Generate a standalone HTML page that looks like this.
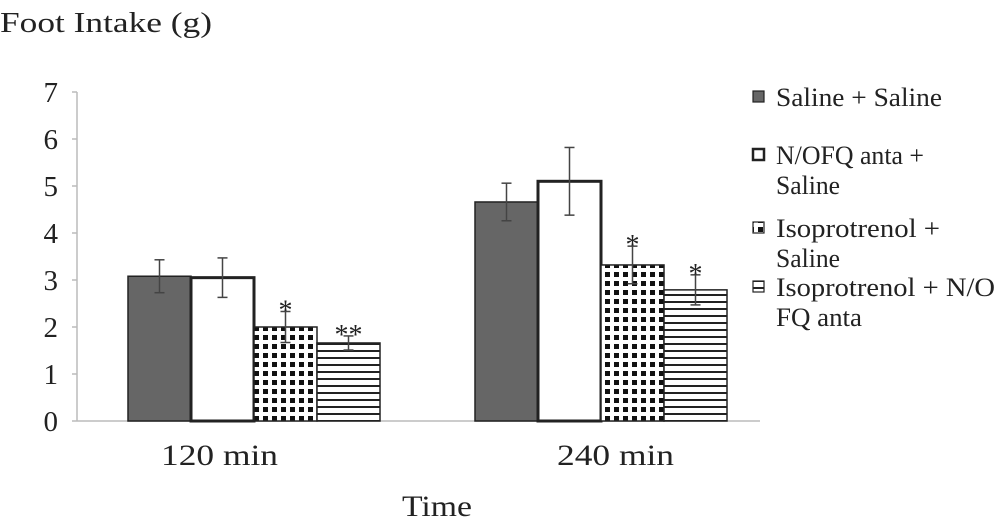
<!DOCTYPE html>
<html><head><meta charset="utf-8"><style>
body{margin:0;background:#fff}
svg text{font-family:"Liberation Serif","DejaVu Serif",serif;fill:#222}
</style></head><body>
<svg id="chart" width="1000" height="525" viewBox="0 0 1000 525" xmlns="http://www.w3.org/2000/svg">
<defs>
<pattern id="checker" width="9" height="9" patternUnits="userSpaceOnUse">
<rect width="9" height="9" fill="#fff"/><rect x="2" y="2" width="5" height="5" fill="#111"/>
</pattern>
<pattern id="hstripe" width="8" height="7" patternUnits="userSpaceOnUse">
<rect width="8" height="7" fill="#fff"/><rect y="0" width="8" height="2" fill="#222"/>
</pattern>
</defs>
<text x="0" y="32" font-size="28" textLength="212" lengthAdjust="spacingAndGlyphs">Foot Intake (g)</text>
<text x="402" y="516" font-size="30" textLength="70" lengthAdjust="spacingAndGlyphs">Time</text>
<g id="axes"></g>
<g id="bars"></g>
<g id="legend"></g>
</svg>
<script>
const categories = ["120 min", "240 min"];
const seriesNames = ["Saline + Saline", "N/OFQ anta + Saline", "Isoprotrenol + Saline", "Isoprotrenol + N/OFQ anta"];
const salineSaline = [3.08, 4.66];
const nofqSaline = [3.05, 5.1];
const isoSaline = [2.0, 3.32];
const isoNofq = [1.66, 2.79];
const errSalineSaline = [0.35, 0.4];
const errNofqSaline = [0.42, 0.72];
const errIsoSaline = [0.33, 0.4];
const errIsoNofq = [0.15, 0.32];
const stars = [["", "", "*", "**"], ["", "", "*", "*"]];
const yTicks = [0, 1, 2, 3, 4, 5, 6, 7];

const NS = "http://www.w3.org/2000/svg";
const x0 = 77, y0 = 421, unit = 47;
const groupStart = [128, 475], barW = 63;
const labelCenter = [219, 615];
const yScale = v => y0 - v * unit;
const xBar = (g, s) => groupStart[g] + s * barW;
const fills = ["#666", "#fff", "url(#checker)", "url(#hstripe)"];
const values = [salineSaline, nofqSaline, isoSaline, isoNofq];
const errs = [errSalineSaline, errNofqSaline, errIsoSaline, errIsoNofq];
function mk(tag, attrs, parent) { const e = document.createElementNS(NS, tag); for (const k in attrs) e.setAttribute(k, attrs[k]); parent.appendChild(e); return e; }

const axes = document.getElementById("axes");
const yl = mk("line", {x1: x0, y1: yScale(7), x2: x0, y2: y0, stroke: "#bbb", "stroke-width": 1.5}, axes);


const xl = mk("line", {x1: x0, y1: y0, x2: 760, y2: y0, stroke: "#bbb", "stroke-width": 1.5}, axes);


yTicks.forEach(t => {
  const tk = mk("line", {x1: x0 - 5, y1: yScale(t), x2: x0, y2: yScale(t), stroke: "#bbb", "stroke-width": 1.5}, axes);
  
  
  const lb = mk("text", {x: 58, y: yScale(t) + 10, "font-size": 29, "text-anchor": "end"}, axes);
  lb.textContent = t;
  
  
});
categories.forEach((c, g) => {
  const lb = mk("text", {x: labelCenter[g] - 58, y: 465, "font-size": 30, textLength: 117, lengthAdjust: "spacingAndGlyphs"}, axes);
  lb.textContent = c;
  
  
});

const bars = document.getElementById("bars");
categories.forEach((c, g) => {
  values.forEach((arr, s) => {
    const v = arr[g], x = xBar(g, s);
    const r = mk("rect", {x: x, y: yScale(v), width: barW, height: y0 - yScale(v), fill: fills[s], stroke: "#222", "stroke-width": s === 1 ? 3 : 1.5}, bars);
    
    
    const e = errs[s][g], cx = x + barW / 2;
    const eg = mk("g", {stroke: "#444", "stroke-width": 1.5}, bars);
    
    
    mk("line", {x1: cx, y1: yScale(v + e), x2: cx, y2: yScale(v - e)}, eg);
    mk("line", {x1: cx - 5, y1: yScale(v + e), x2: cx + 5, y2: yScale(v + e)}, eg);
    mk("line", {x1: cx - 5, y1: yScale(v - e), x2: cx + 5, y2: yScale(v - e)}, eg);
    if (stars[g][s]) {
      const st = mk("text", {x: cx, y: yScale(v + e) + 8, "font-size": 28, "text-anchor": "middle", fill: "#444"}, bars);
      st.textContent = stars[g][s];
      
      
    }
  });
});

const legend = document.getElementById("legend");
const legendLines = [["Saline + Saline"], ["N/OFQ anta +", "Saline"], ["Isoprotrenol +", "Saline"], ["Isoprotrenol + N/O", "FQ anta"]];
const legendWidths = [[166], [148, 64], [164, 64], [219, 86]];
const legendY = [97, 155, 228, 287];
seriesNames.forEach((n, s) => {
  const g = mk("g", {}, legend);
  
  
  mk("rect", {x: 753, y: legendY[s] - 6, width: 11, height: 11, fill: fills[s], stroke: "#222", "stroke-width": s === 1 ? 2.5 : 1.2}, g);
  legendLines[s].forEach((t, i) => {
    const tx = mk("text", {x: 776, y: legendY[s] + 9 + i * 30, "font-size": 26, textLength: legendWidths[s][i], lengthAdjust: "spacingAndGlyphs"}, g);
    tx.textContent = t;
  });
});
</script>
</body></html>
